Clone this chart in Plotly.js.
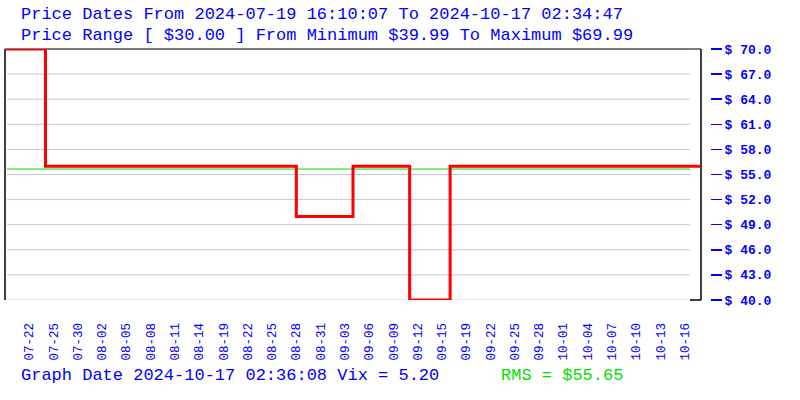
<!DOCTYPE html>
<html>
<head>
<meta charset="utf-8">
<script src="https://cdn.plot.ly/plotly-3.0.1.min.js"></script>
<style>html,body{margin:0;padding:0;background:#fff;}#chart{width:800px;height:400px;}</style>
</head>
<body>
<div id="chart"></div>
<script>
// ---- data ----
const stepSample = [0, 5, 36, 43, 50, 55, 86];
const stepPrice  = [69.99, 55.99, 49.99, 55.99, 39.99, 55.99, 55.99];
const rmsValue = 55.65;
const dateLabels = ['07-22','07-25','07-30','08-02','08-05','08-08','08-11','08-14','08-19','08-22',
  '08-25','08-28','08-31','09-03','09-06','09-09','09-12','09-15','09-19','09-22',
  '09-25','09-28','10-01','10-04','10-07','10-10','10-13','10-16'];
const labelEvery = 3;
const priceTicks = [40, 43, 46, 49, 52, 55, 58, 61, 64, 67, 70];
const titleLine1 = 'Price Dates From 2024-07-19 16:10:07 To 2024-10-17 02:34:47';
const titleLine2 = 'Price Range [ $30.00 ] From Minimum $39.99 To Maximum $69.99';
const footerLeft = 'Graph Date 2024-10-17 02:36:08 Vix = 5.20';
const footerRight = 'RMS = $55.65';

// ---- layout helpers ----
const W = 800, H = 400;
const M = {l: 5, r: 99, t: 49, b: 100};
const PW = W - M.l - M.r, PH = H - M.t - M.b;
const px = x => (x - M.l) / PW;
const py = y => (H - M.b - y) / PH;
const FONT = 'Liberation Mono, DejaVu Sans Mono, monospace';
const BLUE = '#0000ff';

const tickPos = dateLabels.map((_, i) => labelEvery * (i + 1));

const shapes = [];
const gx0 = px(7), gx1 = px(690);
priceTicks.forEach(v => shapes.push({type:'line', xref:'paper', yref:'y', x0:gx0, x1:gx1, y0:v, y1:v,
  line:{color:'#c8c8c8', width:1}, layer:'below'}));
shapes.push({type:'line', xref:'paper', yref:'y', x0:gx0, x1:gx1, y0:rmsValue, y1:rmsValue,
  line:{color:'#00dd00', width:1}, layer:'below'});
// frame
shapes.push({type:'line', xref:'paper', yref:'paper', x0:0, x1:1, y0:1, y1:1, line:{color:'#000', width:1}, layer:'below'});
shapes.push({type:'line', xref:'paper', yref:'paper', x0:0, x1:0, y0:0, y1:1, line:{color:'#000', width:1.5}, layer:'below'});
shapes.push({type:'line', xref:'paper', yref:'paper', x0:1, x1:1, y0:0, y1:1, line:{color:'#000', width:1.5}, layer:'below'});
shapes.push({type:'line', xref:'paper', yref:'paper', x0:gx1, x1:1, y0:0, y1:0, line:{color:'#000', width:1.5}, layer:'below'});

const annotations = [
  {text: titleLine1, x: px(20), y: py(15)},
  {text: titleLine2, x: px(20), y: py(35)},
  {text: footerLeft, x: px(20), y: py(375)},
  {text: footerRight, x: px(500), y: py(375), color: '#00e000'}
].map(a => ({text: a.text, xref:'paper', yref:'paper', x:a.x, y:a.y, xanchor:'left', yanchor:'middle',
  showarrow:false, borderpad:0, font:{family:FONT, size:17, color:a.color || BLUE}}));

const trace = {
  type:'scatter', mode:'lines', x: stepSample, y: stepPrice,
  line:{shape:'hv', color:'#ff0000', width:3}, hoverinfo:'skip', cliponaxis:false
};

const layout = {
  width: W, height: H, margin: M, paper_bgcolor:'#fff', plot_bgcolor:'#fff', showlegend:false,
  xaxis: {range:[stepSample[0], stepSample[stepSample.length-1]], showgrid:false, zeroline:false, showline:false,
    tickmode:'array', tickvals: tickPos, ticktext: dateLabels, tickangle:-90,
    ticks:'outside', ticklen:17, tickcolor:'rgba(0,0,0,0)',
    tickfont:{family:FONT, size:12.5, color:BLUE}},
  yaxis: {range:[40, 70], side:'right', anchor:'free', position:1, shift:9, showgrid:false, zeroline:false, showline:false,
    tickmode:'array', tickvals: priceTicks, ticktext: priceTicks.map(v => '<b>$ ' + v.toFixed(1) + '</b>'),
    ticks:'outside', ticklen:11, tickwidth:1.5, tickcolor:BLUE,
    tickfont:{family:FONT, size:13, color:BLUE}},
  shapes, annotations
};

Plotly.newPlot('chart', [trace], layout, {displayModeBar:false, staticPlot:true});
</script>
</body>
</html>
